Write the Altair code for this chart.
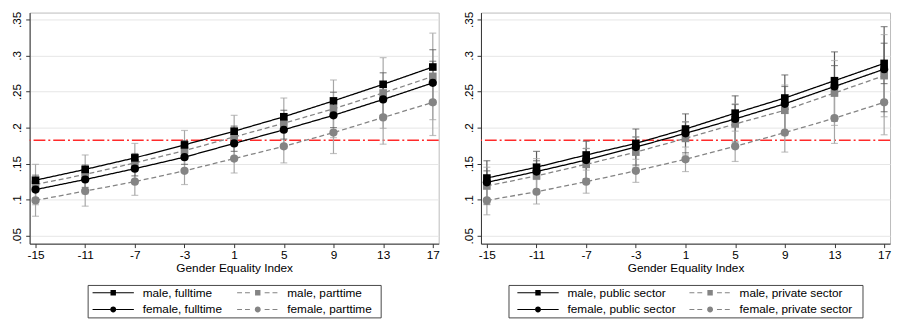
import altair as alt
import pandas as pd

X = [-15, -11, -7, -3, 1, 5, 9, 13, 17]
REF_LINE = 0.1825

LEFT_NAMES = ["male, fulltime", "male, parttime", "female, fulltime", "female, parttime"]
RIGHT_NAMES = ["male, public sector", "male, private sector", "female, public sector", "female, private sector"]
LEGEND_COL = [0, 1, 0, 1]
LEGEND_ROW = [0, 0, 1, 1]

# Left panel (fulltime / parttime)
male_ft = [0.127, 0.142, 0.158, 0.176, 0.195, 0.215, 0.237, 0.260, 0.284]
male_ft_lo = [0.120, 0.136, 0.152, 0.170, 0.188, 0.206, 0.225, 0.244, 0.260]
male_ft_hi = [0.134, 0.148, 0.164, 0.182, 0.202, 0.224, 0.249, 0.276, 0.308]
male_pt = [0.121, 0.135, 0.151, 0.168, 0.187, 0.206, 0.226, 0.248, 0.271]
male_pt_lo = [0.093, 0.108, 0.124, 0.140, 0.157, 0.171, 0.186, 0.199, 0.211]
male_pt_hi = [0.149, 0.162, 0.178, 0.196, 0.217, 0.241, 0.266, 0.297, 0.331]
female_ft = [0.114, 0.128, 0.143, 0.159, 0.178, 0.197, 0.217, 0.239, 0.262]
female_ft_lo = [0.102, 0.117, 0.133, 0.149, 0.167, 0.184, 0.200, 0.217, 0.232]
female_ft_hi = [0.126, 0.139, 0.153, 0.169, 0.189, 0.210, 0.234, 0.261, 0.292]
female_pt = [0.099, 0.112, 0.125, 0.140, 0.157, 0.174, 0.193, 0.214, 0.235]
female_pt_lo = [0.077, 0.091, 0.106, 0.121, 0.137, 0.151, 0.164, 0.177, 0.189]
female_pt_hi = [0.121, 0.133, 0.144, 0.159, 0.177, 0.197, 0.222, 0.251, 0.281]

# Right panel (public / private sector)
male_pub = [0.130, 0.145, 0.162, 0.178, 0.198, 0.220, 0.241, 0.265, 0.289]
male_pub_lo = [0.120, 0.136, 0.153, 0.169, 0.188, 0.208, 0.225, 0.244, 0.261]
male_pub_hi = [0.140, 0.154, 0.171, 0.187, 0.208, 0.232, 0.257, 0.286, 0.317]
male_priv = [0.119, 0.133, 0.149, 0.166, 0.185, 0.205, 0.224, 0.248, 0.272]
male_priv_lo = [0.093, 0.109, 0.127, 0.145, 0.162, 0.177, 0.189, 0.203, 0.215]
male_priv_hi = [0.145, 0.157, 0.171, 0.187, 0.208, 0.233, 0.259, 0.293, 0.329]
female_pub = [0.124, 0.139, 0.155, 0.173, 0.192, 0.212, 0.233, 0.257, 0.281]
female_pub_lo = [0.094, 0.111, 0.129, 0.148, 0.165, 0.180, 0.193, 0.209, 0.222]
female_pub_hi = [0.154, 0.167, 0.181, 0.198, 0.219, 0.244, 0.273, 0.305, 0.340]
female_priv = [0.099, 0.111, 0.125, 0.140, 0.156, 0.174, 0.193, 0.213, 0.235]
female_priv_lo = [0.079, 0.094, 0.109, 0.124, 0.139, 0.153, 0.166, 0.178, 0.190]
female_priv_hi = [0.119, 0.128, 0.141, 0.156, 0.173, 0.195, 0.220, 0.248, 0.280]

FONT = "Liberation Sans"
BLACK = "#000000"
GRAY = "#848484"
CI_DARK = "#5a5a5a"
CI_LIGHT = "#a6a6a6"

# legend key symbols (line + marker), centred, 1 unit = 5 px at size 100
SYM_SOLID_SQ = "M-4.2,-0.1H-0.55V0.1H-4.2Z M0.55,-0.1H4.2V0.1H0.55Z M-0.55,-0.55H0.55V0.55H-0.55Z"
SYM_SOLID_CI = ("M-4.2,-0.1H-0.6V0.1H-4.2Z M0.6,-0.1H4.2V0.1H0.6Z "
                "M-0.6,0A0.6,0.6 0 1,1 0.6,0A0.6,0.6 0 1,1 -0.6,0Z")
SYM_DASH_SQ = ("M-4.2,-0.1H-3.2V0.1H-4.2Z M-2.6,-0.1H-1.6V0.1H-2.6Z M1.4,-0.1H2.4V0.1H1.4Z "
               "M3.0,-0.1H4.0V0.1H3.0Z M-0.55,-0.55H0.55V0.55H-0.55Z")
SYM_DASH_CI = ("M-4.2,-0.1H-3.2V0.1H-4.2Z M-2.6,-0.1H-1.6V0.1H-2.6Z M1.4,-0.1H2.4V0.1H1.4Z "
               "M3.0,-0.1H4.0V0.1H3.0Z M-0.6,0A0.6,0.6 0 1,1 0.6,0A0.6,0.6 0 1,1 -0.6,0Z")


def make_df(names, groups):
    rows = []
    for name, (m, lo, hi) in zip(names, groups):
        for x, a, b, c in zip(X, m, lo, hi):
            rows.append({"series": name, "x": x, "y": a, "lo": b, "hi": c})
    return pd.DataFrame(rows)


left_df = make_df(LEFT_NAMES, [(male_ft, male_ft_lo, male_ft_hi), (male_pt, male_pt_lo, male_pt_hi),
                               (female_ft, female_ft_lo, female_ft_hi), (female_pt, female_pt_lo, female_pt_hi)])
right_df = make_df(RIGHT_NAMES, [(male_pub, male_pub_lo, male_pub_hi), (male_priv, male_priv_lo, male_priv_hi),
                                 (female_pub, female_pub_lo, female_pub_hi), (female_priv, female_priv_lo, female_priv_hi)])

x_axis = alt.Axis(values=X, labelExpr="'' + datum.value", grid=False, domainColor="#333333",
                  tickColor="#333333", tickSize=4, labelPadding=2, labelFontSize=12,
                  labelColor="black", labelFont=FONT,
                  title="Gender Equality Index", titleFontSize=12, titleFontWeight="normal",
                  titleFont=FONT, titleColor="black", titlePadding=2, labelFlush=False)
y_axis = alt.Axis(values=[0.05, 0.1, 0.15, 0.2, 0.25, 0.3, 0.35],
                  labelExpr="substring(format(datum.value, '.2~f'), 1)",
                  grid=True, gridColor="#e6e6e6", gridWidth=1, domainColor="#333333",
                  tickColor="#333333", tickSize=4, labelPadding=2, labelFontSize=12,
                  labelColor="black", labelFont=FONT, labelAngle=270, labelAlign="center",
                  labelBaseline="bottom", title=None)

xs = alt.Scale(domain=[-15.475, 17.475], nice=False, zero=False)
ys = alt.Scale(domain=[0.039, 0.3595], nice=False, zero=False)


def plot_layer(df, names):
    xenc = alt.X("x:Q", scale=xs, axis=x_axis)
    yenc = alt.Y("y:Q", scale=ys, axis=y_axis)
    ci_scale = alt.Scale(domain=names, range=[CI_DARK, CI_LIGHT, CI_DARK, CI_LIGHT])
    line_scale = alt.Scale(domain=names, range=[BLACK, GRAY, BLACK, GRAY])
    dash_scale = alt.Scale(domain=names, range=[[1, 0], [5, 3], [1, 0], [5, 3]])
    base = alt.Chart(df)

    ref = alt.Chart(pd.DataFrame({"ref": [REF_LINE]})).mark_rule(
        color="#ff2a2a", strokeWidth=1.6, strokeDash=[12, 3, 2, 3]
    ).encode(y=alt.Y("ref:Q", scale=ys, axis=y_axis))

    ci = base.mark_rule(strokeWidth=1.2).encode(
        x=xenc, y=alt.Y("lo:Q", scale=ys, axis=y_axis), y2="hi:Q",
        color=alt.Color("series:N", scale=ci_scale, legend=None))
    cap_lo = base.mark_tick(orient="horizontal", size=7, thickness=1.2).encode(
        x=xenc, y=alt.Y("lo:Q", scale=ys, axis=y_axis),
        color=alt.Color("series:N", scale=ci_scale, legend=None))
    cap_hi = base.mark_tick(orient="horizontal", size=7, thickness=1.2).encode(
        x=xenc, y=alt.Y("hi:Q", scale=ys, axis=y_axis),
        color=alt.Color("series:N", scale=ci_scale, legend=None))

    def lines(sel):
        return base.transform_filter(alt.FieldOneOfPredicate(field="series", oneOf=sel)).mark_line(
            strokeWidth=1.3).encode(
            x=xenc, y=yenc,
            color=alt.Color("series:N", scale=line_scale, legend=None),
            strokeDash=alt.StrokeDash("series:N", scale=dash_scale, legend=None))

    def points(sel, shape, size):
        return base.transform_filter(alt.FieldOneOfPredicate(field="series", oneOf=sel)).mark_point(
            shape=shape, filled=True, size=size, opacity=1).encode(
            x=xenc, y=yenc, color=alt.Color("series:N", scale=line_scale, legend=None))

    return alt.layer(
        ref, ci, cap_lo, cap_hi,
        lines([names[1], names[3]]), points([names[1]], "square", 60), points([names[3]], "circle", 70),
        lines([names[0], names[2]]), points([names[0]], "square", 60), points([names[2]], "circle", 70),
    ).resolve_scale(color="independent").properties(width=416, height=235)


def legend_box(names, width, col_range):
    ldf = pd.DataFrame({"series": names, "col": LEGEND_COL, "row": LEGEND_ROW})
    lx = alt.X("col:Q", scale=alt.Scale(domain=[0, 1], range=col_range), axis=None)
    ly = alt.Y("row:Q", scale=alt.Scale(domain=[0, 1], range=[8, 25]), axis=None)
    sym = alt.Chart(ldf).mark_point(filled=True, size=100, opacity=1, strokeWidth=0).encode(
        x=lx, y=ly,
        fill=alt.Fill("series:N", scale=alt.Scale(domain=names, range=[BLACK, GRAY, BLACK, GRAY]),
                      legend=None),
        shape=alt.Shape("series:N", scale=alt.Scale(domain=names,
                        range=[SYM_SOLID_SQ, SYM_DASH_SQ, SYM_SOLID_CI, SYM_DASH_CI]), legend=None))
    txt = alt.Chart(ldf).mark_text(align="left", baseline="middle", dx=30, fontSize=12,
                                   font=FONT, color="black").encode(x=lx, y=ly, text="series:N")
    return alt.layer(sym, txt).properties(
        width=width, height=33,
        view=alt.ViewBackground(stroke="#444444", strokeWidth=1, fill="white"))


left = alt.vconcat(plot_layer(left_df, LEFT_NAMES), legend_box(LEFT_NAMES, 298, [26, 173]),
                   spacing=42, center=True, bounds="flush")
right = alt.vconcat(plot_layer(right_df, RIGHT_NAMES), legend_box(RIGHT_NAMES, 360, [30, 205]),
                    spacing=42, center=True, bounds="flush")

chart = alt.hconcat(left, right, spacing=21).resolve_scale(
    color="independent", fill="independent", shape="independent", strokeDash="independent",
    x="independent", y="independent"
).properties(
    padding={"left": 2, "top": 0, "right": 0, "bottom": 0}
).configure(font=FONT).configure_view(stroke="#bbbbbb", strokeWidth=1)

chart.save("out.html", embed_options={"renderer": "svg", "actions": False})
